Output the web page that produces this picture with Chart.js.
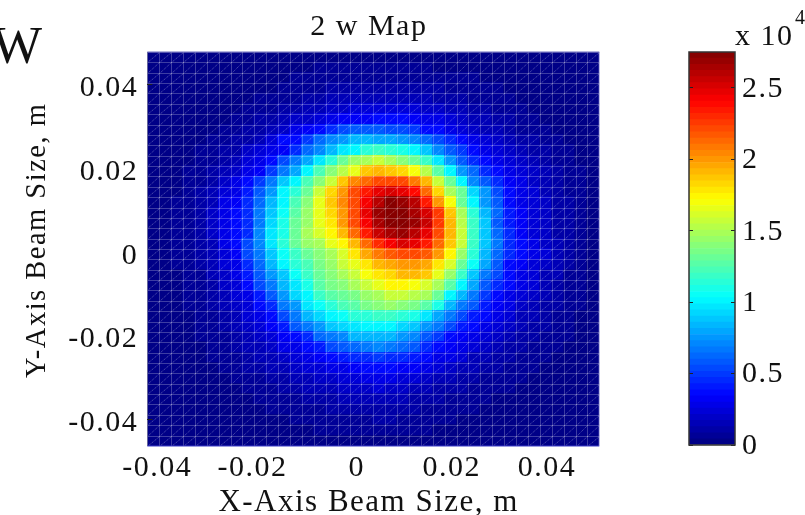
<!DOCTYPE html>
<html>
<head>
<meta charset="utf-8">
<title>2 w Map</title>
<script src="https://cdn.jsdelivr.net/npm/chart.js@4"></script>
<style>
  html, body { margin: 0; padding: 0; background: #fff; overflow: hidden; }
  body { width: 805px; height: 515px; position: relative; font-family: "Liberation Serif", serif; color: #111; }
  canvas { position: absolute; top: 0; }
  #mapChart { left: 0; }
  #barChart { left: 650px; }
  .note { position: absolute; white-space: nowrap; line-height: 1; }
</style>
</head>
<body>
<canvas id="mapChart" width="650" height="515"></canvas>
<canvas id="barChart" width="155" height="515"></canvas>
<div class="note" style="left:-8px;top:19px;font-size:53px;">W</div>
<div class="note" style="left:735px;top:20px;font-size:30px;letter-spacing:1.5px;">x 10</div>
<div class="note" style="left:795px;top:7px;font-size:20px;">4</div>
<script>
const xCells = [-0.04275,-0.04025,-0.03775,-0.03525,-0.03275,-0.03025,-0.02775,-0.02525,-0.02275,-0.02025,-0.01775,-0.01525,-0.01275,-0.01025,-0.00775,-0.00525,-0.00275,-0.00025,0.00225,0.00475,0.00725,0.00975,0.01225,0.01475,0.01725,0.01975,0.02225,0.02475,0.02725,0.02975,0.03225,0.03475,0.03725,0.03975,0.04225,0.04475,0.04725,0.04975];
const yCells = [0.04646,0.04398,0.04151,0.03903,0.03656,0.03408,0.03160,0.02913,0.02665,0.02418,0.02170,0.01922,0.01675,0.01427,0.01180,0.00932,0.00684,0.00437,0.00189,-0.00058,-0.00306,-0.00554,-0.00801,-0.01049,-0.01296,-0.01544,-0.01792,-0.02039,-0.02287,-0.02534,-0.02782,-0.03030,-0.03277,-0.03525,-0.03772,-0.04020,-0.04268,-0.04515];
const xTicks = [-0.04, -0.02, 0, 0.02, 0.04];
const yTicks = [-0.04, -0.02, 0, 0.02, 0.04];
const barTicks = [0, 0.5, 1, 1.5, 2, 2.5];
const barMax = 2.75;
const xLimits = [-0.044, 0.051];
const yLimits = [-0.0464, 0.0477];

// values x 10^4, top row first
const beamMap = [
  [.02,.02,.02,.02,.02,.02,.02,.02,.02,.02,.03,.03,.03,.03,.04,.04,.04,.04,.04,.04,.04,.04,.04,.04,.03,.03,.03,.03,.02,.02,.02,.02,.02,.02,.02,.02,.02,.02],
  [.02,.02,.02,.02,.02,.02,.02,.02,.02,.03,.03,.03,.04,.04,.05,.05,.05,.05,.05,.06,.06,.05,.05,.05,.04,.04,.04,.03,.03,.03,.02,.02,.02,.02,.02,.02,.02,.02],
  [.02,.02,.02,.02,.02,.02,.02,.02,.03,.03,.04,.04,.05,.05,.06,.06,.07,.07,.08,.08,.08,.08,.07,.07,.06,.06,.05,.05,.04,.04,.03,.03,.02,.02,.02,.02,.02,.02],
  [.02,.02,.02,.02,.02,.02,.02,.03,.03,.04,.04,.05,.06,.07,.08,.09,.10,.11,.12,.12,.12,.12,.11,.10,.09,.08,.07,.06,.05,.05,.04,.03,.03,.02,.02,.02,.02,.02],
  [.02,.02,.02,.02,.02,.02,.03,.03,.04,.05,.06,.07,.08,.10,.11,.13,.14,.15,.16,.16,.16,.16,.15,.14,.12,.11,.09,.08,.07,.06,.05,.04,.03,.03,.02,.02,.02,.02],
  [.02,.02,.02,.02,.02,.03,.03,.04,.05,.06,.08,.10,.12,.14,.16,.19,.21,.23,.24,.25,.25,.25,.24,.20,.18,.16,.14,.12,.10,.08,.07,.05,.04,.03,.03,.02,.02,.02],
  [.02,.02,.02,.02,.03,.03,.04,.05,.07,.09,.12,.15,.18,.21,.25,.28,.31,.33,.34,.35,.35,.35,.34,.30,.27,.24,.20,.17,.14,.11,.09,.07,.05,.04,.03,.03,.02,.02],
  [.02,.02,.02,.03,.03,.04,.05,.07,.09,.12,.16,.20,.26,.33,.37,.45,.52,.57,.60,.58,.55,.53,.50,.37,.35,.30,.25,.20,.17,.13,.10,.08,.06,.05,.04,.03,.02,.02],
  [.02,.02,.03,.03,.04,.05,.07,.09,.12,.16,.22,.35,.38,.50,.62,.70,.76,.82,.85,.80,.80,.76,.73,.62,.55,.43,.36,.30,.25,.20,.17,.12,.09,.07,.05,.04,.03,.02],
  [.02,.03,.03,.04,.05,.07,.09,.12,.18,.25,.28,.33,.45,.62,.72,.85,.98,1.03,1.12,1.18,1.15,1.08,1.0,.87,.73,.6,.5,.37,.3,.25,.2,.16,.12,.09,.07,.05,.04,.03],
  [.02,.03,.03,.04,.06,.08,.11,.16,.23,.30,.35,.55,.65,.80,.97,1.15,1.33,1.42,1.50,1.55,1.47,1.38,1.30,1.18,.97,.76,.60,.45,.36,.30,.24,.18,.13,.10,.07,.06,.04,.03],
  [.03,.03,.04,.05,.07,.10,.14,.20,.28,.33,.50,.65,.80,1.03,1.24,1.38,1.52,1.66,1.85,1.90,1.87,1.82,1.68,1.53,1.27,1.03,.76,.62,.47,.36,.30,.24,.18,.13,.09,.07,.05,.04],
  [.03,.03,.04,.06,.08,.12,.20,.28,.36,.50,.68,.88,1.03,1.22,1.38,1.58,1.85,2.02,2.14,2.20,2.22,2.20,2.08,1.90,1.56,1.30,1.03,.73,.60,.46,.34,.28,.20,.15,.10,.08,.06,.04],
  [.03,.03,.04,.06,.09,.15,.23,.30,.40,.57,.74,1.0,1.16,1.30,1.55,1.82,1.98,2.20,2.35,2.46,2.50,2.46,2.38,2.14,1.84,1.50,1.30,.93,.74,.55,.35,.30,.22,.17,.11,.08,.06,.04],
  [.03,.04,.05,.07,.10,.16,.26,.33,.44,.62,.85,1.03,1.24,1.38,1.64,1.85,2.02,2.22,2.42,2.62,2.72,2.68,2.58,2.33,2.0,1.68,1.33,1.03,.74,.56,.37,.30,.23,.18,.12,.09,.06,.04],
  [.03,.04,.05,.07,.11,.18,.28,.35,.46,.67,.90,1.07,1.27,1.44,1.66,1.82,2.0,2.22,2.45,2.68,2.75,2.72,2.66,2.52,2.25,1.88,1.5,1.15,.85,.63,.42,.33,.25,.19,.12,.09,.06,.04],
  [.03,.04,.05,.08,.12,.19,.30,.38,.47,.66,.93,1.08,1.30,1.44,1.64,1.77,1.98,2.20,2.42,2.65,2.75,2.75,2.67,2.55,2.25,1.90,1.53,1.18,.88,.60,.42,.33,.25,.19,.12,.09,.06,.04],
  [.03,.04,.05,.08,.12,.19,.28,.37,.47,.70,.96,1.10,1.33,1.48,1.60,1.72,1.90,2.12,2.35,2.55,2.66,2.70,2.62,2.47,2.22,1.90,1.56,1.18,.88,.63,.44,.33,.25,.19,.12,.09,.06,.04],
  [.03,.04,.05,.07,.11,.17,.26,.36,.55,.72,.95,1.12,1.33,1.42,1.50,1.65,1.72,1.90,2.14,2.30,2.42,2.52,2.48,2.34,2.14,1.87,1.55,1.20,.90,.65,.46,.36,.27,.20,.13,.09,.06,.04],
  [.03,.04,.05,.07,.10,.16,.24,.33,.52,.67,.88,1.07,1.18,1.33,1.38,1.50,1.63,1.78,1.96,2.10,2.16,2.20,2.22,2.18,2.0,1.72,1.42,1.12,.85,.63,.46,.38,.28,.22,.17,.09,.06,.04],
  [.03,.04,.05,.06,.09,.15,.25,.30,.47,.62,.85,1.0,1.12,1.24,1.35,1.43,1.55,1.67,1.78,1.92,1.97,2.0,1.98,1.95,1.80,1.62,1.32,1.04,.80,.60,.38,.33,.25,.20,.15,.09,.06,.04],
  [.03,.03,.04,.06,.08,.13,.20,.28,.42,.58,.76,.90,1.05,1.18,1.32,1.38,1.47,1.57,1.68,1.77,1.83,1.93,1.90,1.85,1.65,1.44,1.20,.88,.68,.53,.36,.30,.23,.17,.13,.08,.06,.04],
  [.03,.03,.04,.05,.07,.11,.18,.25,.36,.53,.66,.82,.98,1.10,1.25,1.35,1.40,1.48,1.55,1.66,1.73,1.75,1.70,1.60,1.47,1.25,1.03,.80,.60,.44,.35,.28,.22,.16,.12,.08,.05,.04],
  [.02,.03,.04,.05,.07,.10,.15,.22,.30,.42,.60,.76,.93,1.03,1.18,1.27,1.33,1.37,1.44,1.50,1.55,1.58,1.54,1.50,1.33,1.02,.83,.68,.50,.36,.30,.25,.18,.14,.10,.07,.05,.03],
  [.02,.03,.03,.05,.06,.09,.13,.20,.25,.35,.44,.65,.75,.98,1.06,1.15,1.22,1.27,1.34,1.38,1.42,1.38,1.34,1.27,1.08,.85,.68,.60,.42,.33,.26,.20,.16,.12,.09,.07,.05,.03],
  [.02,.02,.03,.04,.06,.08,.11,.17,.22,.30,.36,.54,.68,.82,.93,1.0,1.06,1.12,1.15,1.18,1.20,1.15,1.08,.95,.80,.67,.52,.42,.35,.28,.22,.17,.13,.10,.08,.06,.04,.03],
  [.02,.02,.03,.04,.05,.07,.10,.14,.18,.24,.32,.42,.58,.68,.76,.87,.93,.98,1.0,1.03,1.03,.92,.87,.77,.66,.55,.42,.35,.28,.23,.18,.14,.11,.09,.07,.05,.04,.03],
  [.02,.02,.03,.03,.05,.06,.08,.11,.15,.20,.25,.33,.38,.46,.62,.68,.72,.82,.85,.85,.82,.76,.72,.60,.50,.37,.34,.28,.22,.18,.14,.11,.09,.07,.06,.05,.03,.03],
  [.02,.02,.02,.03,.04,.05,.07,.09,.13,.17,.20,.26,.30,.36,.42,.52,.58,.62,.68,.70,.68,.63,.56,.47,.37,.32,.27,.22,.18,.14,.11,.09,.07,.06,.05,.04,.03,.02],
  [.02,.02,.02,.03,.03,.05,.06,.08,.11,.14,.17,.20,.25,.28,.33,.36,.40,.45,.47,.50,.47,.44,.40,.36,.30,.26,.22,.17,.14,.11,.09,.08,.06,.05,.04,.03,.03,.02],
  [.02,.02,.02,.02,.03,.04,.05,.07,.09,.11,.13,.17,.20,.22,.25,.27,.30,.33,.35,.37,.36,.34,.32,.28,.24,.20,.17,.13,.11,.09,.08,.06,.05,.04,.03,.03,.02,.02],
  [.02,.02,.02,.02,.03,.03,.04,.05,.07,.08,.10,.12,.14,.17,.20,.21,.23,.25,.27,.28,.27,.25,.23,.20,.17,.14,.12,.10,.08,.07,.06,.05,.04,.03,.03,.02,.02,.02],
  [.02,.02,.02,.02,.02,.03,.03,.04,.05,.06,.08,.09,.11,.13,.14,.16,.18,.20,.21,.22,.21,.20,.17,.15,.12,.10,.09,.08,.06,.05,.05,.04,.03,.03,.02,.02,.02,.02],
  [.02,.02,.02,.02,.02,.02,.03,.03,.04,.05,.06,.07,.08,.10,.11,.12,.14,.15,.16,.17,.16,.14,.12,.10,.09,.08,.07,.06,.05,.04,.04,.03,.03,.02,.02,.02,.02,.02],
  [.02,.02,.02,.02,.02,.02,.02,.03,.03,.04,.05,.05,.06,.07,.08,.09,.10,.11,.12,.12,.12,.11,.10,.08,.07,.06,.05,.05,.04,.03,.03,.03,.02,.02,.02,.02,.02,.02],
  [.02,.02,.02,.02,.02,.02,.02,.02,.03,.03,.04,.04,.05,.05,.06,.07,.07,.08,.08,.09,.09,.08,.07,.06,.06,.05,.04,.04,.03,.03,.03,.02,.02,.02,.02,.02,.02,.02],
  [.02,.02,.02,.02,.02,.02,.02,.02,.02,.03,.03,.03,.04,.04,.05,.05,.05,.06,.06,.06,.06,.06,.05,.05,.04,.04,.03,.03,.03,.02,.02,.02,.02,.02,.02,.02,.02,.02],
  [.02,.02,.02,.02,.02,.02,.02,.02,.02,.02,.02,.03,.03,.03,.03,.04,.04,.04,.04,.04,.04,.04,.04,.03,.03,.03,.03,.02,.02,.02,.02,.02,.02,.02,.02,.02,.02,.02]
];

const textFont = { family: "'Liberation Serif', serif", size: 30, lineHeight: 1 };
const textColor = '#111';
const LEVELS = 64;

function jet(f) {
  const c = d => Math.round(255 * Math.max(0, Math.min(1, 1.5 - Math.abs(4 * f - d))));
  return `rgb(${c(3)},${c(2)},${c(1)})`;
}

function levelColor(i) {
  return jet((i + 0.5) / LEVELS);
}

// one small canvas per colormap level, used as the point image of a cell
const sprites = {};
function cellSprite(v) {
  const level = Math.min(LEVELS - 1, Math.floor(v / barMax * LEVELS));
  if (!sprites[level]) {
    const s = document.createElement('canvas');
    s.width = 14;
    s.height = 12;
    const g = s.getContext('2d');
    g.fillStyle = levelColor(level);
    g.fillRect(0, 0, 14, 12);
    sprites[level] = s;
  }
  return sprites[level];
}

const cells = [];
beamMap.forEach((row, j) => {
  row.forEach((v, i) => cells.push({ x: xCells[i], y: yCells[j], v: v }));
});

function edgesOf(centers, limits) {
  const lo = centers[0] < centers[1] ? limits[0] : limits[1];
  const hi = centers[0] < centers[1] ? limits[1] : limits[0];
  const out = [lo];
  for (let i = 1; i < centers.length; i++) out.push((centers[i - 1] + centers[i]) / 2);
  out.push(hi);
  return out;
}

// negative labels sit left of their tick in the picture, so pad them on the right
function tickText(v) {
  const s = String(+v.toFixed(2));
  return v < 0 ? s + '  ' : s;
}

const spacing = {
  id: 'spacing',
  beforeDraw(chart) { chart.ctx.letterSpacing = '1.5px'; }
};

// faint pcolor mesh on top of the cells, then the edge lines of the box
const mesh = {
  id: 'mesh',
  afterDatasetsDraw(chart) {
    const { ctx, chartArea: a, scales } = chart;
    const xs = edgesOf(xCells, xLimits).map(v => Math.round(scales.x.getPixelForValue(v)) + 0.5);
    const ys = edgesOf(yCells, yLimits).map(v => Math.round(scales.y.getPixelForValue(v)) + 0.5);
    ctx.save();
    ctx.lineWidth = 1;
    ctx.strokeStyle = 'rgba(255,255,255,0.24)';
    ctx.beginPath();
    xs.forEach(x => { ctx.moveTo(x, a.top); ctx.lineTo(x, a.bottom); });
    ys.forEach(y => { ctx.moveTo(a.left, y); ctx.lineTo(a.right, y); });
    ctx.stroke();
    ctx.setLineDash([1, 1]);
    ctx.strokeStyle = 'rgba(255,255,255,0.36)';
    ctx.beginPath();
    for (let i = 0; i < xCells.length; i++) {
      for (let j = 0; j < yCells.length; j++) {
        ctx.moveTo(xs[i], ys[j + 1]);
        ctx.lineTo(xs[i + 1], ys[j]);
      }
    }
    ctx.stroke();
    ctx.setLineDash([]);
    const edge = (color, x1, y1, x2, y2) => {
      ctx.strokeStyle = color;
      ctx.beginPath();
      ctx.moveTo(x1, y1);
      ctx.lineTo(x2, y2);
      ctx.stroke();
    };
    edge('#66669a', xs[0], a.top, xs[0], a.bottom);
    edge('#3c3cc8', a.left, a.bottom, a.right, a.bottom);
    edge('#b8b8e8', a.right, a.top, a.right, a.bottom);
    edge('#6a6abc', a.left, a.top, a.right, a.top);
    ctx.restore();
  }
};

new Chart(document.getElementById('mapChart'), {
  type: 'scatter',
  data: {
    datasets: [{
      label: '2 w Map',
      data: cells,
      clip: 0,
      pointRadius: 7,
      pointHoverRadius: 7,
      pointStyle: c => cellSprite(c.raw.v)
    }]
  },
  options: {
    responsive: false,
    animation: false,
    layout: { padding: { right: 50.7 } },
    plugins: {
      legend: { display: false },
      tooltip: { enabled: false },
      title: {
        display: true,
        text: '2 w Map ',
        fullSize: false,
        color: textColor,
        font: { ...textFont, weight: 'normal' },
        padding: { top: 12, bottom: 10 }
      }
    },
    scales: {
      x: {
        type: 'linear',
        min: xLimits[0],
        max: xLimits[1],
        afterBuildTicks: s => { s.ticks = xTicks.map(value => ({ value })); },
        afterFit: s => { s.height = 69; },
        border: { display: false },
        grid: { drawOnChartArea: false, drawTicks: false },
        ticks: {
          autoSkip: false,
          maxRotation: 0,
          padding: 7,
          color: textColor,
          font: textFont,
          callback: tickText
        },
        title: {
          display: true,
          text: 'X-Axis Beam Size, m ',
          color: textColor,
          font: { ...textFont, size: 31, lineHeight: 0.8 },
          padding: 0
        }
      },
      y: {
        type: 'linear',
        min: yLimits[0],
        max: yLimits[1],
        afterBuildTicks: s => { s.ticks = yTicks.map(value => ({ value })); },
        afterFit: s => { s.width = 147.3; },
        border: { display: false },
        grid: {
          drawOnChartArea: false,
          tickLength: -5,
          z: 1,
          tickColor: c => (Math.abs(c.tick.value) > 0.03 ? '#222' : 'rgba(0,0,0,0)')
        },
        ticks: {
          autoSkip: false,
          padding: 14,
          labelOffset: 4,
          color: textColor,
          font: textFont,
          callback: v => String(+v.toFixed(2))
        },
        title: {
          display: true,
          text: '  Y-Axis Beam Size, m',
          color: textColor,
          font: { ...textFont, size: 28.5 },
          padding: { top: 23, bottom: 0 }
        }
      }
    }
  },
  plugins: [spacing, mesh]
});

const colorLevels = [];
for (let i = 0; i < LEVELS; i++) colorLevels.push(levelColor(i));

const frame = {
  id: 'frame',
  afterDraw(chart) {
    const { ctx, chartArea: a } = chart;
    ctx.save();
    ctx.strokeStyle = '#333';
    ctx.lineWidth = 1.5;
    ctx.strokeRect(a.left, a.top, a.right - a.left, a.bottom - a.top);
    ctx.restore();
  }
};

const barTickOptions = {
  type: 'linear',
  min: 0,
  max: barMax,
  stacked: true,
  afterBuildTicks: s => { s.ticks = barTicks.map(value => ({ value })); },
  border: { display: false },
  grid: { drawOnChartArea: false, tickLength: -4, tickColor: '#222', z: 1 }
};

new Chart(document.getElementById('barChart'), {
  type: 'bar',
  data: {
    labels: [''],
    datasets: colorLevels.map(color => ({
      data: [barMax / LEVELS],
      backgroundColor: color,
      barPercentage: 1,
      categoryPercentage: 1,
      yAxisID: 'y'
    }))
  },
  options: {
    responsive: false,
    animation: false,
    layout: { padding: { top: 52, bottom: 70 } },
    plugins: { legend: { display: false }, tooltip: { enabled: false } },
    scales: {
      x: { display: false, stacked: true },
      y: {
        ...barTickOptions,
        position: 'right',
        afterFit: s => { s.width = 70; },
        ticks: { padding: 11, labelOffset: 1, color: textColor, font: textFont, callback: v => String(v) }
      },
      yLeft: {
        ...barTickOptions,
        position: 'left',
        afterFit: s => { s.width = 39; },
        ticks: { display: false }
      }
    }
  },
  plugins: [spacing, frame]
});
</script>
</body>
</html>
